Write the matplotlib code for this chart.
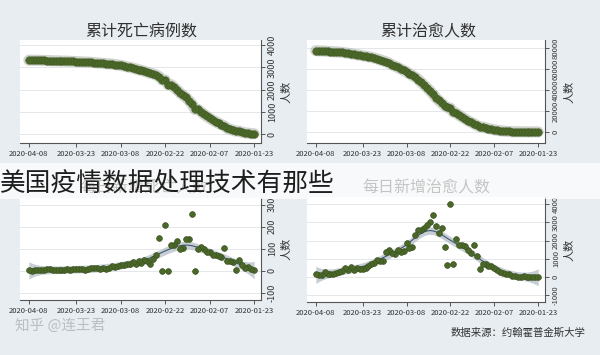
import numpy as np
import pandas as pd
import matplotlib
matplotlib.use('Agg')
import matplotlib.pyplot as plt
from matplotlib.patches import Rectangle

plt.rcParams['font.family'] = ['Noto Sans CJK SC', 'DejaVu Sans']

# daily series, 2020-01-23 .. 2020-04-08
start_date = '2020-01-23'
deaths_cum = [18, 26, 42, 56, 82, 131, 133, 171, 213,
              259, 361, 425, 490, 562, 632, 717, 804, 904, 1011, 1111, 1111, 1367, 1510, 1652,
              1757, 1855, 1991, 2106, 2224, 2224, 2432, 2432, 2582, 2653, 2705, 2734, 2778, 2825,
              2860, 2902, 2933, 2971, 3002, 3032, 3060, 3087, 3109, 3126, 3148, 3159, 3166, 3179,
              3189, 3203, 3216, 3227, 3235, 3238, 3245, 3251, 3260, 3267, 3271, 3277, 3282, 3285,
              3290, 3294, 3295,
              3302, 3308, 3312, 3316, 3319, 3321, 3321, 3323]
recovered_cum = [30, 36, 39, 49, 58, 101, 120, 135, 214,
                 275, 463, 614, 843, 1115, 1476, 1998, 2595, 3218, 3917, 4635, 5079, 6213, 7973,
                 9294, 10748, 12455, 14199, 15952, 18014, 18704, 22699, 23383, 25015, 27676, 30084,
                 32898, 36291, 39279,
                 42118, 44810, 47404, 50001, 52292, 53944, 55539, 57388, 58804, 60181, 61644, 62901,
                 64196, 65660, 67017, 67910, 68798, 69755, 70535, 71266, 71857, 72362, 72814, 73280,
                 73773, 74181, 74720, 75100, 75582, 75923, 76206,
                 76405, 76565, 76760, 76946, 77207, 77310, 77410, 77567]
deaths_new = [1, 8, 16, 14, 26, 49, 2, 38, 42,
              46, 102, 64, 65, 72, 70, 85, 87, 100, 107, 100, 0, 256, 143, 142, 105, 98, 136, 115,
              118, 0, 208, 0, 150, 71, 52, 29, 44, 47,
              35, 42, 31, 38, 31, 30, 28, 27, 22, 17, 22, 11, 7, 13, 10, 14, 13, 11, 8, 3, 7, 6, 9,
              7, 4, 6, 5, 3, 5, 4, 1,
              7, 6, 4, 4, 3, 2, 0, 2]
recovered_new = [2, 6, 3, 10, 9, 43, 19, 15, 79,
                 61, 188, 151, 229, 272, 361, 522, 597, 623, 699, 718, 444, 1134, 1760, 1321, 1454,
                 1707, 1744, 1753, 2062, 690, 3995, 684, 1632, 2661, 2408, 2814, 3393, 2988,
                 2839, 2692, 2594, 2597, 2291, 1652, 1595, 1849, 1416, 1377, 1463, 1257, 1295, 1464,
                 1357, 893, 888, 957, 780, 731, 591, 505, 452, 466, 493, 408, 539, 380, 482, 341, 283,
                 199, 160, 195, 186, 261, 103, 100, 157]

tick_dates = ['2020-01-23', '2020-02-07', '2020-02-22', '2020-03-08', '2020-03-23', '2020-04-08']
titles = ['累计死亡病例数', '累计治愈人数', '每日新增死亡人数', '每日新增治愈人数']

dates = pd.date_range(start_date, periods=len(deaths_cum))
days = np.arange(len(dates), dtype=float)

bg = '#e7edf0'
green = '#4b6829'
edge = '#3a521f'


def lpoly(x, y, h):
    # local linear smoother with gaussian kernel, plus pointwise std error
    y = np.asarray(y, float)
    L = np.empty((len(x), len(x)))
    for i, x0 in enumerate(x):
        w = np.exp(-0.5 * ((x - x0) / h) ** 2)
        X = np.column_stack([np.ones_like(x), x - x0])
        XtW = X.T * w
        L[i] = np.linalg.solve(XtW @ X, XtW)[0]
    fit = L @ y
    resid = y - fit
    sigma2 = resid @ resid / (len(x) - np.trace(L))
    se = np.sqrt(sigma2 * (L ** 2).sum(1))
    return fit, se


def style(ax, yticks, ylim, ysize):
    ax.set_facecolor('white')
    ax.set_xlim(pd.Timestamp('2020-04-11'), pd.Timestamp('2020-01-20 16:00'))
    ax.set_ylim(ylim)
    ax.yaxis.tick_right()
    ax.yaxis.set_label_position('right')
    ax.set_yticks(yticks)
    ax.set_yticklabels([str(t) for t in yticks], rotation=90, va='center', fontsize=ysize, color='#333333')
    ax.set_xticks(pd.to_datetime(tick_dates))
    ax.set_xticklabels(tick_dates, fontsize=5.5, color='#333333')
    ax.tick_params(length=3, width=0.7, color='#555555', pad=2)
    for s in ['left', 'top']:
        ax.spines[s].set_visible(False)
    for s in ['right', 'bottom']:
        ax.spines[s].set_color('#555555')
        ax.spines[s].set_linewidth(0.8)
    ax.grid(axis='y', color='#e3e7ea', lw=0.7)
    ax.set_axisbelow(True)
    ax.set_ylabel('人数', rotation=90, fontsize=8, labelpad=3, color='#333333')


fig = plt.figure(figsize=(6, 3.55), dpi=100, facecolor=bg)

ax1 = fig.add_axes([0.0333, 0.597, 0.4017, 0.290])
ax2 = fig.add_axes([0.5117, 0.597, 0.3967, 0.290])
ax3 = fig.add_axes([0.0333, 0.155, 0.4017, 0.287])
ax4 = fig.add_axes([0.5117, 0.149, 0.3967, 0.296])

# cumulative panels
for ax, vals in [(ax1, deaths_cum), (ax2, recovered_cum)]:
    ax.plot(dates, vals, color='#a7b0a3', lw=8, alpha=0.55, solid_capstyle='round', zorder=2)
    ax.scatter(dates, vals, s=30, color=green, edgecolors=edge, linewidths=0.3, zorder=3)

# daily panels with smoother and band
for ax, vals, h in [(ax3, deaths_new, 4.0), (ax4, recovered_new, 4.0)]:
    fit, se = lpoly(days, vals, h)
    ax.fill_between(dates, fit - 1.96 * se, fit + 1.96 * se, color='#b8c1c9', alpha=0.8, lw=0, zorder=2)
    ax.plot(dates, fit, color='#3f5670', lw=0.8, zorder=3)
    ax.scatter(dates, vals, s=17, color=green, edgecolors=edge, linewidths=0.5, zorder=4)

style(ax1, [0, 1000, 2000, 3000, 4000], (-400, 4225), 6.5)
style(ax2, [0, 20000, 40000, 60000, 80000], (-10600, 87700), 5.5)
style(ax3, [-100, 0, 100, 200, 300], (-133, 330), 6.5)
style(ax4, [-1000, 0, 1000, 2000, 3000, 4000], (-1370, 4380), 5.5)

fig.text(0.235, 0.91, titles[0], ha='center', va='center', fontsize=11.5, color='#303030')
fig.text(0.713, 0.91, titles[1], ha='center', va='center', fontsize=11.5, color='#303030')
fig.text(0.240, 0.47, titles[2], ha='center', va='center', fontsize=11.5, color='#303030', zorder=0.5)
fig.text(0.711, 0.47, titles[3], ha='center', va='center', fontsize=11.5, color='#303030', zorder=0.5)

# pale banner with the headline on top
fig.add_artist(Rectangle((0, 1 - 199 / 355), 1, 36 / 355, transform=fig.transFigure,
                         facecolor='white', edgecolor='none', alpha=0.72, zorder=1))
fig.text(0.0, 1 - 185 / 355, '美国疫情数据处理技术有那些', ha='left', va='center',
         fontsize=18.5, color='#1e1e1e', fontweight='light', zorder=2)

fig.text(0.025, 1 - 326 / 355, '知乎 @连王君', ha='left', va='center', fontsize=10.5, color='#b9bec2')
fig.text(0.975, 1 - 333 / 355, '数据来源：约翰霍普金斯大学', ha='right', va='center', fontsize=7.5, color='#333333')

fig.savefig('out.png', dpi=100, facecolor=bg)
